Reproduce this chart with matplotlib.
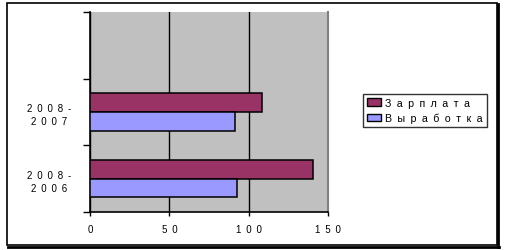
import matplotlib
matplotlib.use("Agg")
import matplotlib.pyplot as plt
from matplotlib.patches import Patch, Rectangle
import numpy as np

# данные
periods = ["2008-2006", "2008-2007"]
zarplata = [140.5, 108.3]
vyrabotka = [92.6, 91.3]
series_names = ["Зарплата", "Выработка"]
x_ticks = [0, 50, 100, 150]


def spaced(s):
    # текст в оригинале с разрядкой
    return "\u2002".join(s)


plt.rcParams["font.family"] = ["Liberation Sans", "DejaVu Sans"]
fs = 7

fig = plt.figure(figsize=(5.06, 2.51), dpi=100)
fig.patch.set_facecolor("white")

# рамка вокруг всей диаграммы (с тенью справа и снизу)
W, H = 506, 251
fig.add_artist(Rectangle((7 / W, 1 - 246 / H), 490 / W, 242 / H,
                         transform=fig.transFigure, fill=False,
                         edgecolor="black", linewidth=1.2))
fig.add_artist(plt.Line2D([498 / W, 498 / W], [1 - 247.5 / H, 1 - 5 / H],
                          transform=fig.transFigure, color="black", linewidth=2))
fig.add_artist(plt.Line2D([8 / W, 499 / W], [1 - 247.5 / H, 1 - 247.5 / H],
                          transform=fig.transFigure, color="black", linewidth=2))

ax = fig.add_axes([90 / W, 38 / H, 238 / W, 200 / H])
ax.set_facecolor("#C0C0C0")

y = np.arange(len(periods))
h = 0.28
c1 = "#993366"
c2 = "#9999FF"
ax.barh(y + h / 2, zarplata, height=h, color=c1, edgecolor="black", linewidth=1.1, zorder=3)
ax.barh(y - h / 2, vyrabotka, height=h, color=c2, edgecolor="black", linewidth=1.1, zorder=3)

ax.set_xlim(0, 150)
ax.set_ylim(-0.5, 2.5)

ax.set_xticks(x_ticks)
ax.set_xticklabels([spaced(str(t)) for t in x_ticks], fontsize=fs)
ax.xaxis.grid(True, color="black", linewidth=1, zorder=1)
ax.set_axisbelow(True)
ax.tick_params(axis="x", length=3, width=1, pad=5.5, color="black")

ax.set_yticks([-0.5, 0.5, 1.5, 2.5])
ax.set_yticklabels([])
ax.tick_params(axis="y", which="major", length=5, width=1, direction="out")
ax.set_yticks(y, minor=True)
ax.set_yticklabels([spaced(p[:5]) + "\n" + spaced(p[5:]) for p in periods],
                   minor=True, fontsize=fs, ha="center", multialignment="center",
                   linespacing=1.4)
ax.tick_params(axis="y", which="minor", length=0, pad=29.5)

for side in ["left", "bottom"]:
    ax.spines[side].set_color("black")
    ax.spines[side].set_linewidth(1.2)
ax.spines["top"].set_visible(False)
ax.spines["right"].set_color("#808080")
ax.spines["right"].set_linewidth(1.5)

handles = [Patch(facecolor=c1, edgecolor="black", linewidth=1),
           Patch(facecolor=c2, edgecolor="black", linewidth=1)]
leg = fig.legend(handles, [spaced(s) for s in series_names],
                 loc="upper left", bbox_to_anchor=(363 / W, 1 - 95 / H),
                 fontsize=7.7, frameon=True, fancybox=False, borderpad=0.35,
                 handlelength=1.35, handleheight=0.7, handletextpad=0.4,
                 labelspacing=0.45, borderaxespad=0)
leg.get_frame().set_edgecolor("black")
leg.get_frame().set_linewidth(1)

fig.savefig("out.png", dpi=100)
